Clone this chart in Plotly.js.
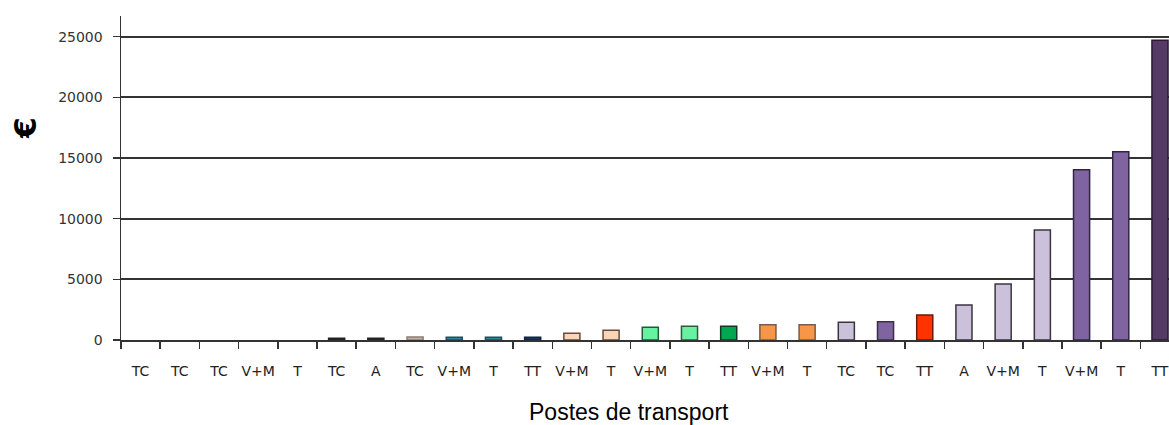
<!DOCTYPE html>
<html>
<head>
<meta charset="utf-8">
<script src="https://cdn.plot.ly/plotly-3.0.1.min.js"></script>
<style>html,body{margin:0;padding:0;background:#fff;overflow:hidden}</style>
</head>
<body>
<div id="chart" style="width:1169px;height:425px"></div>
<script>
const labels = ["TC","TC","TC","V+M","T","TC","A","TC","V+M","T","TT","V+M","T","V+M","T","TT","V+M","T","TC","TC","TT","A","V+M","T","V+M","T","TT"];
const values = [0,0,0,0,0,150,150,250,220,220,220,550,800,1050,1130,1130,1260,1260,1460,1510,2060,2890,4620,9075,14030,15510,24700];
const yTicks = [0, 5000, 10000, 15000, 20000, 25000];
const colors = ["#1a1a1a","#1a1a1a","#1a1a1a","#1a1a1a","#1a1a1a","#1a1a1a","#1a1a1a","#c4b4a4","#31859c","#31859c","#17375e",
  "#fad5b8","#fad5b8","#66f2a0","#66f2a0","#00a650","#f79646","#f79646","#ccc1da","#8064a2","#ff3300","#ccc1da","#ccc1da","#ccc1da","#8064a2","#8064a2","#563a66"];
const outline = ["#222","#222","#222","#222","#222","#222","#222","#8a7e74","#1f4f5e","#1f4f5e","#0f2440",
  "#6a4a3a","#6a4a3a","#1f5a3a","#2f5a3f","#0f3a20","#7a5a48","#7a5a48","#3a3540","#3a2f48","#6a1a0a","#3a3540","#3a3540","#3a3540","#2f2540","#2f2540","#2a1a35"];

const idx = labels.map((_, i) => i);
const bounds = labels.map((_, i) => i - 0.5).concat([labels.length - 0.5]);
const lineWidths = values.map(v => v > 0 ? 1.5 : 0);

const trace = {
  type: "bar",
  x: idx,
  y: values,
  width: 0.41,
  marker: {color: colors, line: {color: outline, width: lineWidths}},
  hoverinfo: "y"
};

const layout = {
  width: 1169, height: 425,
  margin: {l: 121, r: 0, t: 16, b: 85},
  paper_bgcolor: "#fff", plot_bgcolor: "#fff",
  showlegend: false,
  xaxis: {
    range: [-0.5, 26.23],
    tickvals: idx, ticktext: labels,
    ticks: "", showgrid: false, zeroline: false,
    showline: true, linecolor: "#333", linewidth: 1.5,
    tickfont: {family: "DejaVu Sans", size: 14, color: "#222"},
    ticklabelstandoff: 18,
    minor: {tickvals: bounds, ticks: "outside", ticklen: 7, tickcolor: "#333", tickwidth: 1.5, showgrid: false}
  },
  yaxis: {
    range: [0, 26700],
    tickvals: yTicks, tickformat: "d",
    ticks: "outside", ticklen: 7, tickcolor: "#333", tickwidth: 1.5,
    showline: true, linecolor: "#333", linewidth: 1.5,
    showgrid: true, gridcolor: "#333", gridwidth: 2,
    zeroline: false,
    tickfont: {family: "DejaVu Sans", size: 14, color: "#333"},
    ticklabelstandoff: 7
  },
  annotations: [
    {text: "€", xref: "paper", yref: "paper", x: 0, y: 1, xshift: -96, yshift: -112,
     xanchor: "center", yanchor: "middle", textangle: -90, showarrow: false,
     font: {family: "DejaVu Sans", size: 30, color: "#000", weight: "bold"}},
    {text: "Postes de transport", xref: "paper", yref: "paper", x: 0.5, y: 0, xshift: -16, yshift: -72,
     xanchor: "center", yanchor: "middle", showarrow: false,
     font: {family: "Liberation Sans", size: 23, color: "#000"}}
  ]
};

Plotly.newPlot("chart", [trace], layout, {displayModeBar: false, staticPlot: true});
</script>
</body>
</html>
